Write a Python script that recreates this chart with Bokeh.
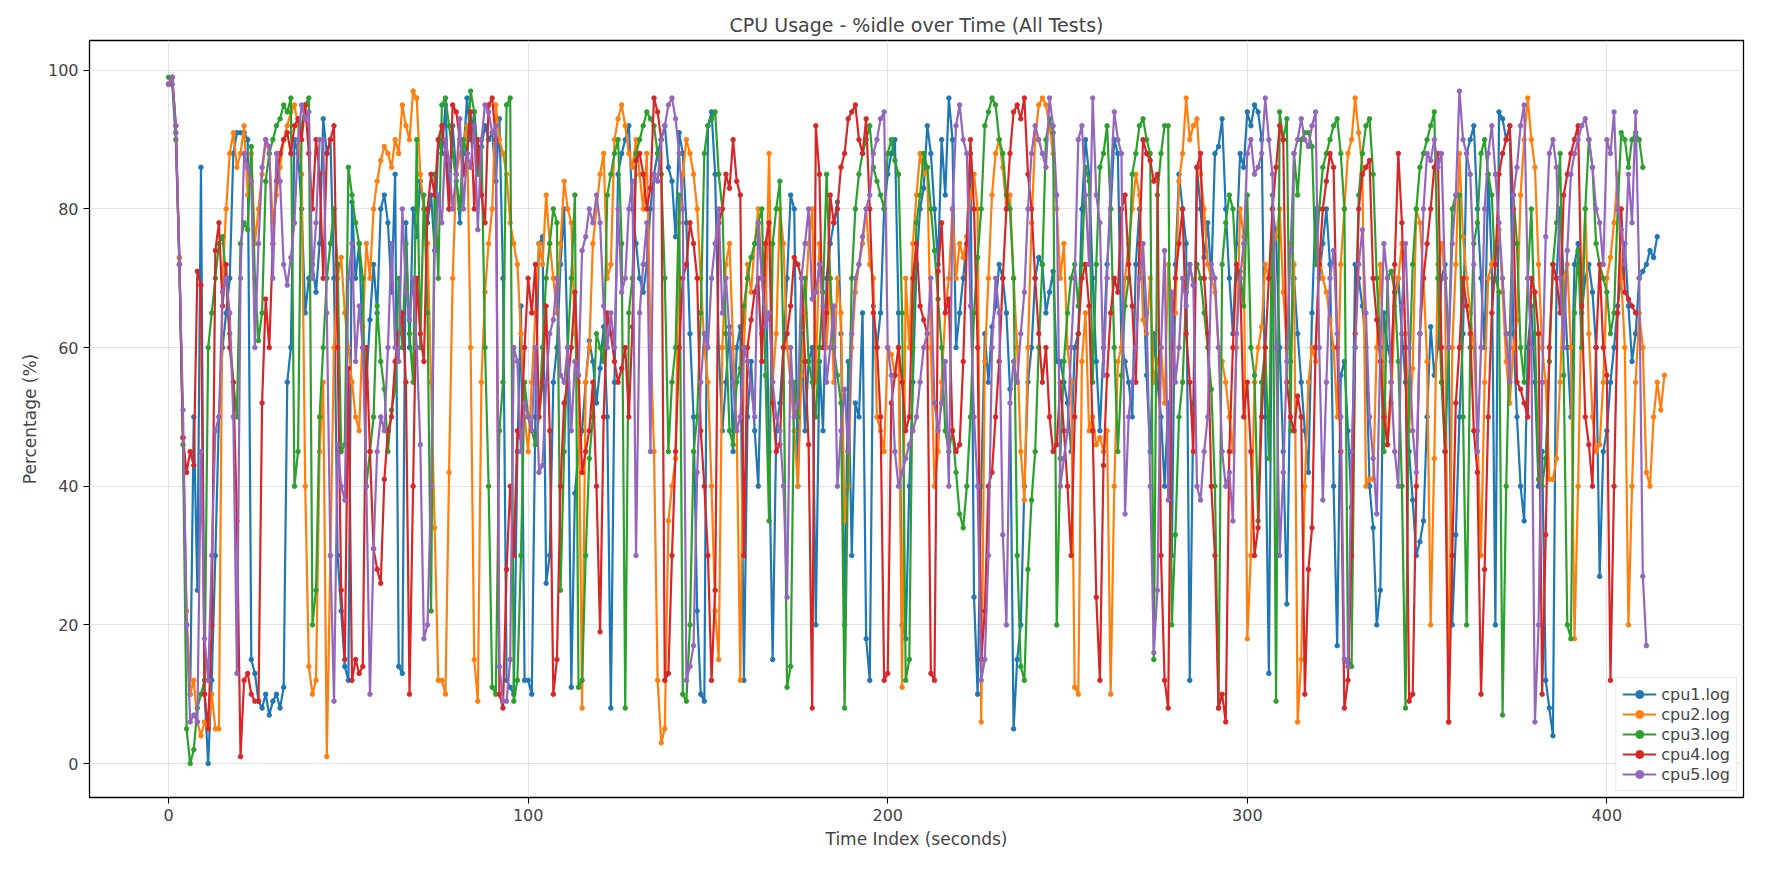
import numpy as np
from bokeh.plotting import figure
from bokeh.models import Legend, LegendItem, FixedTicker, Range1d
from bokeh.embed import file_html
from bokeh.resources import INLINE

# values, one sample per second
cpu1 = [98,99,91,73,47,20,10,50,25,86,10,0,12,30,50,60,65,70,88,91,
        91,91,90,15,13,9,8,10,7,9,10,8,11,55,60,90,88,80,65,70,
        72,68,75,93,88,90,70,30,22,14,12,81,70,75,60,55,64,72,65,80,
        82,78,68,85,14,13,78,60,80,76,84,80,78,82,74,90,88,95,80,92,
        85,78,88,96,90,94,88,89,92,90,91,84,93,70,12,11,10,45,66,12,
        12,10,50,75,76,26,30,55,60,72,80,60,11,39,45,48,55,61,58,52,
        57,63,50,8,55,85,88,90,92,80,75,70,68,72,80,85,88,90,92,86,
        84,76,91,88,78,62,50,22,10,9,92,94,85,60,48,55,63,45,60,63,
        12,50,58,48,40,62,73,45,15,48,52,60,70,82,80,40,62,48,58,60,
        20,58,48,70,75,78,81,62,20,58,30,52,50,65,18,12,66,60,65,80,
        85,88,90,65,20,18,40,55,72,80,83,92,88,80,72,90,82,96,90,60,
        65,70,76,88,24,10,40,62,55,63,66,72,70,65,54,5,15,20,40,55,
        60,70,73,72,65,68,71,58,58,55,52,45,60,62,80,90,85,70,58,48,
        60,72,80,90,88,60,58,55,50,72,80,70,56,45,62,55,50,40,52,30,
        72,85,80,75,12,52,86,80,73,78,70,88,89,93,80,70,62,75,88,86,
        94,92,95,94,90,50,13,80,76,60,45,23,58,70,62,55,48,42,65,80,
        70,75,80,72,40,17,56,58,48,37,72,70,66,60,40,34,20,25,65,60,
        58,68,70,62,55,45,38,30,32,35,50,63,56,60,70,72,60,20,33,50,
        62,88,90,92,80,70,60,85,72,20,94,93,90,92,62,50,40,35,60,66,
        55,40,45,12,8,4,70,80,70,60,50,72,75,65,70,72,68,60,27,45,
        48,55,60,66,70,75,66,58,62,70,71,72,74,73,76]
cpu2 = [98,99,92,73,47,22,10,12,6,4,6,5,10,5,5,70,80,88,91,86,
        88,92,82,88,75,80,85,90,88,78,82,86,90,92,94,95,92,85,40,14,
        10,12,45,55,1,30,60,70,73,65,60,55,50,48,63,75,70,80,84,87,
        89,88,86,90,88,95,92,90,97,96,85,80,75,55,34,12,12,10,42,70,
        85,88,90,92,60,15,9,55,68,75,80,95,90,88,85,78,75,72,62,50,
        45,55,65,75,72,82,75,70,65,75,84,80,78,62,55,8,55,60,75,80,
        85,88,70,72,90,93,95,92,88,86,90,85,80,88,62,45,12,3,5,35,
        40,44,78,85,90,88,85,80,70,60,55,40,22,15,60,72,75,60,48,12,
        60,72,68,75,80,70,64,88,55,62,80,75,60,55,48,40,56,65,75,80,
        55,75,68,60,70,55,70,65,35,40,60,68,72,75,80,72,70,50,48,45,
        60,59,56,60,11,70,60,75,82,88,85,86,60,40,45,55,65,70,80,70,
        75,73,76,82,85,80,6,58,70,82,88,90,86,80,82,70,60,45,38,60,
        78,90,95,96,95,92,88,80,70,75,60,55,11,10,58,65,48,50,46,47,
        45,48,10,40,58,60,70,75,80,85,82,64,62,70,55,58,60,52,72,66,
        65,84,88,96,90,92,93,85,80,72,70,68,60,58,55,50,45,60,80,76,
        18,30,55,60,63,72,70,74,76,80,68,60,75,72,6,15,40,55,60,58,
        74,70,68,64,60,50,72,80,88,90,96,91,86,40,41,41,60,72,55,46,
        52,66,70,75,62,48,57,80,78,70,58,20,44,72,75,70,6,60,72,88,
        76,70,65,60,48,30,55,70,72,75,77,68,58,52,60,64,82,90,96,90,
        86,72,60,55,41,41,44,55,70,72,60,18,40,68,80,62,50,45,46,55,
        70,73,78,85,70,60,20,40,55,65,60,42,40,50,55,51,56]
cpu3 = [99,98,90,72,46,5,0,2,8,10,12,60,65,70,75,76,70,62,55,50,
        75,78,77,89,70,61,65,84,88,90,92,93,95,94,96,40,45,92,95,96,
        20,25,50,60,70,75,80,72,45,46,86,82,78,75,70,40,45,50,66,58,
        54,45,51,54,70,60,75,62,55,90,60,82,65,22,85,70,95,96,92,88,
        84,80,90,88,97,94,85,90,60,40,11,10,48,55,95,96,9,12,30,55,
        50,48,46,50,60,70,75,80,78,25,45,60,70,82,11,12,30,44,50,62,
        60,58,82,85,88,90,75,8,65,70,88,90,92,94,93,92,88,85,70,45,
        55,60,82,10,9,20,45,50,65,88,92,93,94,85,80,62,48,46,55,57,
        66,70,73,75,78,80,56,35,75,80,84,60,11,14,55,50,63,70,58,55,
        50,60,68,85,70,60,56,52,8,45,70,80,85,88,90,92,86,84,82,80,
        88,90,87,85,65,12,15,60,78,82,88,86,80,74,67,60,48,45,48,42,
        36,34,40,50,65,73,80,92,94,96,95,90,88,82,80,70,30,14,12,28,
        38,45,60,72,90,93,91,20,44,58,65,70,72,66,72,86,84,55,72,86,
        88,92,80,60,45,56,66,70,85,88,92,93,90,88,15,82,88,92,92,20,
        33,50,55,68,72,69,72,70,65,60,54,40,8,72,78,82,80,70,71,66,
        82,60,56,35,55,60,44,82,9,94,90,93,48,88,82,90,91,91,89,72,
        80,86,88,90,92,93,88,80,15,14,60,82,88,92,93,85,70,60,45,70,
        71,68,58,40,8,55,72,80,86,88,90,92,94,70,55,45,60,80,82,82,
        50,20,60,75,78,88,90,85,82,70,68,7,40,62,82,75,60,55,70,80,
        62,41,40,44,58,72,78,88,56,20,18,65,74,60,80,90,86,75,72,70,
        68,62,65,80,91,90,86,90,91,90,86]
cpu4 = [98,99,92,72,47,42,45,43,71,69,10,5,20,74,78,66,72,60,55,35,
        1,12,13,10,9,9,52,67,60,75,84,88,90,91,88,92,93,90,95,88,
        80,90,85,70,88,90,92,60,25,15,57,12,15,13,14,60,45,31,28,26,
        41,48,50,58,62,65,55,10,40,70,62,58,80,85,82,90,92,88,80,95,
        94,90,85,88,94,80,90,82,78,95,96,90,10,8,28,40,30,48,47,60,
        70,65,72,50,55,66,48,10,15,40,52,55,60,68,56,42,45,48,55,40,
        19,50,65,62,58,55,57,60,50,63,87,88,85,80,83,96,94,90,12,13,
        30,45,60,70,72,78,75,70,48,40,30,12,25,78,80,85,83,90,84,82,
        30,60,64,68,70,58,75,78,52,45,46,60,62,66,73,72,70,58,46,8,
        92,85,60,65,82,78,80,86,88,93,94,95,90,88,93,80,65,60,50,12,
        13,52,56,60,55,48,50,70,75,66,64,62,13,12,71,78,65,67,48,45,
        46,58,75,90,80,60,15,22,40,42,50,58,70,80,88,94,95,93,96,85,
        80,70,62,55,60,50,45,46,55,48,40,30,50,62,70,72,66,48,24,12,
        43,56,65,70,68,80,82,72,66,55,75,90,88,87,84,85,30,12,8,60,
        70,75,80,62,55,45,86,88,70,62,40,30,8,10,6,45,60,72,70,50,
        55,45,30,34,50,60,70,80,86,92,90,55,50,48,53,50,10,28,34,60,
        72,80,84,88,86,60,45,8,12,30,62,80,85,86,87,70,64,58,50,46,
        55,72,88,78,60,9,10,40,62,70,75,80,86,88,60,45,6,30,52,60,
        70,66,62,48,42,10,28,50,65,72,85,88,90,92,80,55,54,52,50,70,
        68,62,10,33,60,72,70,65,82,85,88,90,92,66,50,46,40,60,72,60,
        56,12,40,65,80,68,67,66,65]
cpu5 = [98,99,92,72,51,20,6,7,6,45,18,12,30,48,50,68,70,65,50,13,
        70,88,86,84,60,75,86,90,89,70,88,84,72,69,73,78,90,95,93,94,
        70,78,90,90,65,30,9,46,40,38,70,75,58,66,60,40,10,31,45,50,
        48,60,75,60,58,80,68,64,70,60,46,18,20,40,74,82,78,90,87,80,
        85,93,80,88,86,92,77,90,95,94,91,92,14,9,9,15,60,58,45,52,
        50,48,60,42,43,55,62,64,70,56,55,60,48,58,56,74,76,80,78,82,
        78,66,60,65,60,80,68,70,80,84,30,65,72,78,45,85,84,90,92,95,
        96,93,88,80,12,14,17,42,55,62,60,70,75,80,65,70,62,55,48,50,
        60,58,54,50,78,70,63,65,55,50,48,40,24,60,50,52,70,75,80,67,
        68,72,66,55,60,66,40,48,54,45,62,70,72,76,80,82,88,90,93,94,
        60,56,45,40,42,44,46,48,50,55,60,62,70,52,48,52,58,40,80,92,
        95,90,88,66,50,40,12,15,30,60,70,65,33,20,52,58,55,62,68,80,
        88,92,90,88,86,96,92,82,40,44,48,60,70,90,92,82,72,96,82,78,
        56,70,84,94,90,88,36,50,55,60,70,75,65,40,16,25,60,74,38,68,
        55,60,70,66,72,69,40,38,45,50,72,70,60,45,40,42,35,62,70,75,
        88,90,85,86,88,96,90,85,60,30,42,58,74,88,90,93,90,89,92,94,
        60,38,55,70,74,62,50,15,14,45,60,72,77,65,50,44,36,60,75,70,
        55,45,40,66,75,60,48,42,62,80,88,87,90,86,88,70,60,75,82,97,
        90,88,85,72,45,60,80,88,92,85,78,70,62,55,82,86,92,95,70,60,
        6,20,55,76,88,90,86,70,60,74,85,88,90,92,93,90,86,80,78,72,
        90,88,94,80,77,72,85,78,94,70,27,17]

names = ["cpu1.log", "cpu2.log", "cpu3.log", "cpu4.log", "cpu5.log"]
series = [cpu1, cpu2, cpu3, cpu4, cpu5]
colors = ["#1f77b4", "#ff7f0e", "#2ca02c", "#d62728", "#9467bd"]

FONT = "DejaVu Sans"

p = figure(frame_width=1654, frame_height=757, output_backend="svg",
           toolbar_location=None, title="CPU Usage - %idle over Time (All Tests)",
           x_range=Range1d(-22, 438), y_range=Range1d(-4.9, 104.3),
           min_border_left=89, min_border_top=40, min_border_right=16,
           min_border_bottom=55)
p.title.align = "center"
p.title.text_font = FONT
p.title.text_font_size = "19px"
p.title.text_font_style = "normal"
p.outline_line_color = "black"
p.outline_line_width = 1.3

p.xaxis.axis_label = "Time Index (seconds)"
p.yaxis.axis_label = "Percentage (%)"
for ax in (p.xaxis, p.yaxis):
    ax.axis_label_text_font = FONT
    ax.axis_label_text_font_style = "normal"
    ax.axis_label_text_font_size = "17px"
    ax.major_label_text_font = FONT
    ax.major_label_text_font_size = "16px"
    ax.minor_tick_line_color = None
    ax.axis_line_color = None
    ax.major_tick_out = 6
    ax.major_tick_in = 0
p.xaxis.ticker = FixedTicker(ticks=[0, 100, 200, 300, 400])
p.yaxis.ticker = FixedTicker(ticks=[0, 20, 40, 60, 80, 100])
p.grid.grid_line_color = "#dddddd"
p.grid.grid_line_alpha = 0.8

items = []
for name, y, c in zip(names, series, colors):
    x = np.arange(len(y))
    r1 = p.line(x, y, line_color=c, line_width=2.2)
    r2 = p.scatter(x, y, size=4.5, fill_color=c, line_color=c)
    items.append(LegendItem(label=name, renderers=[r1, r2]))

legend = Legend(items=items, location="bottom_right", label_text_font=FONT,
                label_text_font_size="16px", border_line_color="#cccccc",
                background_fill_alpha=0.8, spacing=0, padding=6, margin=6,
                glyph_width=34, label_height=20, glyph_height=20)
p.add_layout(legend)

open("out.html", "w").write(file_html(p, INLINE))
